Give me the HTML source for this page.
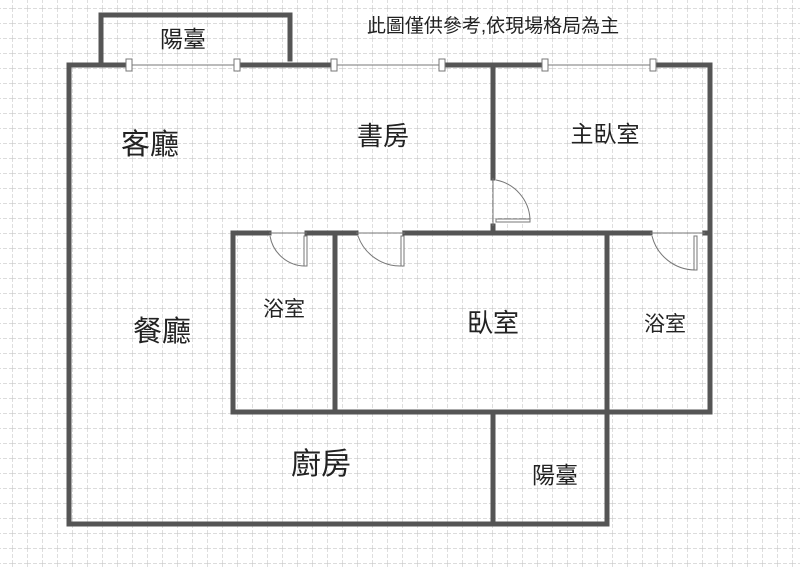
<!DOCTYPE html>
<html><head><meta charset="utf-8"><style>
html,body{margin:0;padding:0;background:#fff;}
svg{display:block}
text{font-family:"Liberation Sans","Noto Sans CJK TC",sans-serif;fill:#222;text-anchor:middle;}
</style></head><body>
<svg width="800" height="569" viewBox="0 0 800 569" xmlns="http://www.w3.org/2000/svg">
<defs>
<pattern id="g" x="12" y="8" width="15" height="15" patternUnits="userSpaceOnUse">
<path d="M0 0V15M0 0H15" stroke="#c8c8c8" stroke-width="1.2" stroke-dasharray="4,2" fill="none"/>
</pattern>
</defs>
<rect width="800" height="569" fill="url(#g)"/>
<g stroke="#555" stroke-width="5" fill="none" stroke-linecap="square">
<polyline points="101,61 101,15 290,15 290,59"/>
<polyline points="129,65 69,65 69,524 607,524 607,412 710,412 710,65 653,65"/>
<line x1="237" y1="65" x2="333" y2="65"/>
<line x1="442" y1="65" x2="545" y2="65"/>
<line x1="493" y1="65" x2="493" y2="178"/>
<line x1="493" y1="226" x2="493" y2="233"/>
<polyline points="269,233 233,233 233,412 710,412"/>
<line x1="307" y1="233" x2="356" y2="233"/>
<line x1="405" y1="233" x2="650" y2="233"/>
<line x1="705" y1="233" x2="710" y2="233"/>
<line x1="335" y1="233" x2="335" y2="412"/>
<line x1="607" y1="233" x2="607" y2="412"/>
<line x1="493" y1="412" x2="493" y2="524"/>
</g>
<g stroke="#777" stroke-width="1" fill="#fff">
<line x1="129" y1="65" x2="237" y2="65"/>
<line x1="334" y1="65" x2="442" y2="65"/>
<line x1="545" y1="65" x2="653" y2="65"/>
<rect x="126" y="59" width="6" height="12"/>
<rect x="234" y="59" width="6" height="12"/>
<rect x="331" y="59" width="6" height="12"/>
<rect x="439" y="59" width="6" height="12"/>
<rect x="542" y="59" width="6" height="12"/>
<rect x="650" y="59" width="6" height="12"/>
</g>
<g stroke="#777" stroke-width="1" fill="none">
<line x1="269" y1="233" x2="307" y2="233"/>
<rect x="304" y="236" width="3" height="30" fill="#fff"/>
<path d="M270 236 A36 36 0 0 0 305 266"/>
<line x1="356" y1="233" x2="405" y2="233"/>
<rect x="401" y="236" width="3" height="30" fill="#fff"/>
<path d="M358 236 A45 45 0 0 0 402 266"/>
<line x1="650" y1="233" x2="705" y2="233"/>
<rect x="694" y="236" width="3" height="34" fill="#fff"/>
<path d="M652 236 A45 45 0 0 0 695 270"/>
<line x1="493" y1="178" x2="493" y2="226"/>
<rect x="496" y="219" width="34" height="3" fill="#fff"/>
<path d="M496 180 A42 42 0 0 1 530 219"/>
</g>
<text x="493" y="32" font-size="19">此圖僅供參考,依現場格局為主</text>
<text x="183" y="47" font-size="23">陽臺</text>
<text x="150" y="154" font-size="29">客廳</text>
<text x="383" y="145" font-size="26">書房</text>
<text x="605" y="142" font-size="23">主臥室</text>
<text x="162" y="341" font-size="29">餐廳</text>
<text x="284" y="316" font-size="21">浴室</text>
<text x="493" y="332" font-size="26">臥室</text>
<text x="665" y="331" font-size="21">浴室</text>
<text x="321" y="474" font-size="30">廚房</text>
<text x="555" y="483" font-size="23">陽臺</text>
</svg>
</body></html>
